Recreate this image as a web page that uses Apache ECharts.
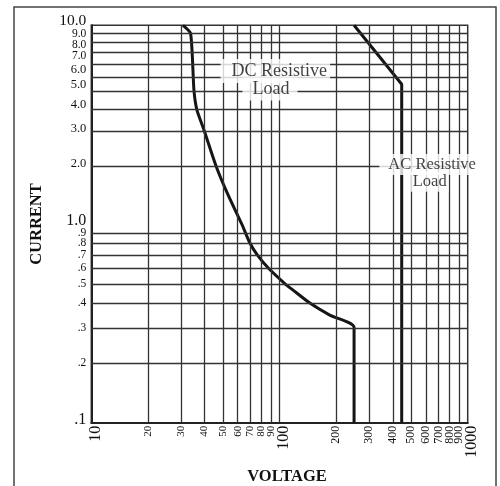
<!DOCTYPE html>
<html>
<head>
<meta charset="utf-8">
<script src="https://cdn.jsdelivr.net/npm/echarts@6/dist/echarts.min.js"></script>
<style>html,body{margin:0;padding:0;background:#fff}#c{width:500px;height:486px}</style>
</head>
<body>
<div id="c"></div>
<script>
// ---- data ----
const xTickValues = [10, 20, 30, 40, 50, 60, 70, 80, 90, 100, 200, 300, 400, 500, 600, 700, 800, 900, 1000];
const yTickValues = [0.1, 0.2, 0.3, 0.4, 0.5, 0.6, 0.7, 0.8, 0.9, 1, 2, 3, 4, 5, 6, 7, 8, 9, 10];
const xGridValues = [20, 30, 40, 50, 60, 70, 80, 90, 100, 200, 300, 400, 500, 600, 700, 800, 900];
// horizontal rules as printed in the reference (upper decade is irregular in the original)
const yGridValues = [9.1, 8.2, 7.3, 6.36, 5.49, 4.67, 3.79, 2.94, 1.96, 0.9, 0.8, 0.7, 0.6, 0.5, 0.4, 0.3, 0.2];

const dcVoltage = [30.7, 33.7, 35.1, 36.4, 39.7, 46.0, 53.3, 63.0, 69.7, 76.2, 87.2, 107, 118, 145, 185, 249, 249];
const dcCurrent = [10, 9.1, 4.73, 3.75, 2.97, 1.96, 1.40, 1.0, 0.80, 0.70, 0.60, 0.50, 0.465, 0.40, 0.348, 0.302, 0.1];

const acVoltage = [249, 446, 446];
const acCurrent = [10, 5.05, 0.1];

const noteText = ['DC Resistive', 'Load', 'AC Resistive', 'Load'];
const noteVoltage = [95.0, 89, 620, 628];
const noteCurrent = [5.89, 4.78, 1.99, 1.63];

// ---- chart ----
const SERIF = "'Liberation Serif', 'Times New Roman', serif";
const notePadding = [[4, 3, 2, 11], [2, 8, 3, 10], [2, 2, 2, 9], [1, 2, 2, 2]];
const noteSize = [18, 18, 16.5, 16.5];

// order labels so that the end-of-list pairs are far apart (keeps crowded end labels visible)
function spreadOrder(arr) {
  const n = arr.length;
  const mid = Math.floor(n / 2);
  const rest = arr.filter((_, i) => i !== 0 && i !== n - 1 && i !== mid);
  return [arr[0], arr[n - 1]].concat(rest, [arr[mid]]);
}

function fmtX(v) {
  const r = Math.round(v);
  if (r === 10 || r === 100 || r === 1000) return '{big|' + r + '}';
  return r < 100 ? '{s11|' + r + '}' : '{s12|' + r + '}';
}
function fmtY(v) {
  const r = Math.round(v * 10) / 10;
  if (r >= 1) {
    const s = r.toFixed(1);
    if (r === 10) return '{top|' + s + '}';
    if (r === 1) return '{big|' + s + '}';
    return r >= 7 ? '{s11|' + s + '}' : '{s12|' + s + '}';
  }
  const s = '.' + Math.round(r * 10);
  if (r === 0.1) return '{big|' + s + '}';
  return '{s11|' + s + '}';
}

const chart = echarts.init(document.getElementById('c'), null, {renderer: 'canvas'});
chart.setOption({
  animation: false,
  backgroundColor: '#fff',
  textStyle: {fontFamily: SERIF, color: '#111'},
  grid: {left: 91.3, top: 25.3, right: 32.3, bottom: 63.3, containLabel: false, outerBoundsMode: 'none',
         show: true, borderColor: '#333', borderWidth: 1.5},
  graphic: [{type: 'rect', shape: {x: 14, y: 7, width: 482, height: 500},
             style: {fill: 'none', stroke: '#444', lineWidth: 1.5}, silent: true, z: 0}],
  xAxis: {
    type: 'log', logBase: 10, min: 10, max: 1000,
    name: 'VOLTAGE', nameLocation: 'middle', nameGap: 46,
    nameTextStyle: {fontFamily: SERIF, fontWeight: 'bold', fontSize: 16.5, color: '#111', padding: [0, 0, 0, 15]},
    axisLine: {show: true, lineStyle: {color: '#222', width: 2}},
    axisTick: {show: false},
    splitLine: {show: false},
    minorTick: {show: false}, minorSplitLine: {show: false},
    axisLabel: {
      customValues: spreadOrder(xTickValues), rotate: 90, margin: 3, formatter: fmtX,
      hideOverlap: false, showMinLabel: true, showMaxLabel: true,
      rich: {
        big: {fontFamily: SERIF, fontSize: 16, color: '#111', padding: [9, 0, 0, 0]},
        s11: {fontFamily: SERIF, fontSize: 11, color: '#111'},
        s12: {fontFamily: SERIF, fontSize: 12, color: '#111'}
      }
    }
  },
  yAxis: {
    type: 'log', logBase: 10, min: 0.1, max: 10,
    name: 'CURRENT', nameLocation: 'middle', nameGap: 40, nameRotate: 90,
    nameTextStyle: {fontFamily: SERIF, fontWeight: 'bold', fontSize: 16.5, color: '#111', padding: [0, 0, 6, 0]},
    axisLine: {show: true, lineStyle: {color: '#222', width: 2}},
    axisTick: {show: false},
    splitLine: {show: false},
    minorTick: {show: false}, minorSplitLine: {show: false},
    axisLabel: {
      customValues: spreadOrder(yTickValues), margin: 5, formatter: fmtY,
      hideOverlap: false, showMinLabel: true, showMaxLabel: true,
      rich: {
        top: {fontFamily: SERIF, fontSize: 15.5, color: '#111', padding: [0, 0, 8, 0]},
        big: {fontFamily: SERIF, fontSize: 16, color: '#111', padding: [0, 0, 6, 0]},
        s11: {fontFamily: SERIF, fontSize: 11.5, color: '#111'},
        s12: {fontFamily: SERIF, fontSize: 12.5, color: '#111'}
      }
    }
  },
  series: [
    {
      name: 'grid', type: 'line', data: [], z: 1, silent: true,
      markLine: {
        silent: true, symbol: ['none', 'none'], label: {show: false},
        lineStyle: {color: '#333', width: 1.3, type: 'solid', opacity: 1},
        emphasis: {disabled: true},
        data: xGridValues.map(v => ({xAxis: v})).concat(yGridValues.map(v => ({yAxis: v})))
      }
    },
    {
      name: 'DC Resistive Load', type: 'line', z: 3, showSymbol: false, symbol: 'none', smooth: 0.2,
      lineStyle: {color: '#151515', width: 3}, clip: false,
      data: dcVoltage.map((v, i) => [v, dcCurrent[i]])
    },
    {
      name: 'AC Resistive Load', type: 'line', z: 3, showSymbol: false, symbol: 'none',
      lineStyle: {color: '#151515', width: 3}, clip: false,
      data: acVoltage.map((v, i) => [v, acCurrent[i]])
    },
    {
      name: 'notes', type: 'scatter', z: 6, symbolSize: 0, silent: true,
      data: noteText.map((t, i) => ({
        name: t, value: [noteVoltage[i], noteCurrent[i]],
        label: {show: true, position: 'inside', formatter: t, fontFamily: SERIF, fontSize: noteSize[i],
                color: '#111', backgroundColor: '#fff', padding: notePadding[i]}
      }))
    }
  ]
});
</script>
</body>
</html>
